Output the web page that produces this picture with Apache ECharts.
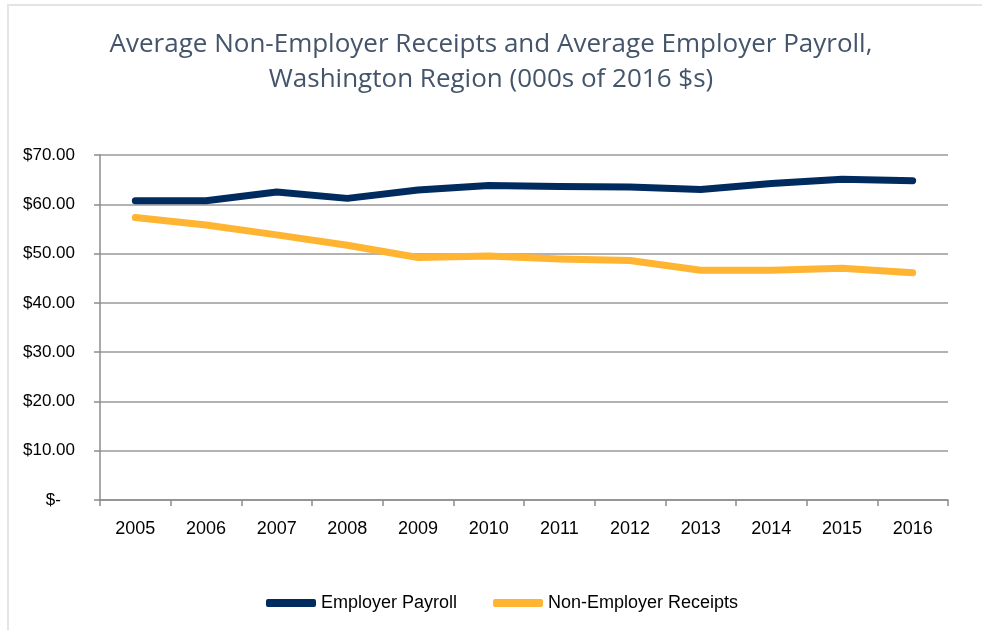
<!DOCTYPE html>
<html>
<head>
<meta charset="utf-8">
<script src="https://cdn.jsdelivr.net/npm/echarts@6/dist/echarts.min.js"></script>
<style>
  html, body { margin: 0; padding: 0; background: #fff; }
  #main { width: 982px; height: 630px; }
</style>
</head>
<body>
<div id="main"></div>
<script>
var years = ['2005', '2006', '2007', '2008', '2009', '2010', '2011', '2012', '2013', '2014', '2015', '2016'];
var employerPayroll = [60.7, 60.7, 62.5, 61.2, 62.9, 63.8, 63.6, 63.5, 63.0, 64.2, 65.1, 64.8];
var nonEmployerReceipts = [57.3, 55.8, 53.8, 51.7, 49.2, 49.5, 48.9, 48.6, 46.6, 46.6, 47.0, 46.1];

var myChart = echarts.init(document.getElementById('main'));

var option = {
  backgroundColor: '#fff',
  animation: false,
  title: {
    text: 'Average Non-Employer Receipts and Average Employer Payroll,\nWashington Region (000s of 2016 $s)',
    left: 'center',
    top: 22,
    textStyle: {
      color: '#44546A',
      fontFamily: 'Open Sans',
      fontWeight: 'normal',
      fontSize: 26,
      lineHeight: 35
    }
  },
  // light frame around the chart (top and left edge)
  graphic: [
    { type: 'rect', shape: { x: 7, y: 4, width: 975, height: 2 }, style: { fill: '#e4e4e4' } },
    { type: 'rect', shape: { x: 7, y: 4, width: 2, height: 626 }, style: { fill: '#e4e4e4' } }
  ],
  legend: {
    bottom: 13,
    left: 261,
    icon: 'roundRect',
    itemWidth: 50,
    itemHeight: 8,
    itemGap: 36,
    textStyle: { color: '#000', fontFamily: 'Liberation Sans', fontSize: 18 },
    data: ['Employer Payroll', 'Non-Employer Receipts']
  },
  grid: { left: 100, right: 34, top: 155, bottom: 130 },
  xAxis: {
    type: 'category',
    data: years,
    boundaryGap: true,
    axisLine: { lineStyle: { color: '#8c8c8c', width: 1.5 } },
    axisTick: { show: true, length: 6, lineStyle: { color: '#8c8c8c', width: 1.5 } },
    axisLabel: { color: '#000', fontFamily: 'Liberation Sans', fontSize: 18, margin: 20 }
  },
  yAxis: {
    type: 'value',
    min: 0,
    max: 70,
    interval: 10,
    axisLine: { show: true, lineStyle: { color: '#8c8c8c', width: 1.5 } },
    axisTick: { show: true, length: 6, lineStyle: { color: '#8c8c8c', width: 1.5 } },
    splitLine: { lineStyle: { color: '#999', width: 1.5 } },
    axisLabel: {
      color: '#000',
      fontFamily: 'Liberation Sans',
      fontSize: 17,
      margin: 25,
      formatter: function (v) {
        return v === 0 ? '$-   ' : '$' + v.toFixed(2);
      }
    }
  },
  series: [
    {
      name: 'Employer Payroll',
      type: 'line',
      data: employerPayroll,
      symbol: 'none',
      color: '#002B5F',
      lineStyle: { width: 7, color: '#002B5F', cap: 'round', join: 'round' }
    },
    {
      name: 'Non-Employer Receipts',
      type: 'line',
      data: nonEmployerReceipts,
      symbol: 'none',
      color: '#FFB531',
      lineStyle: { width: 7, color: '#FFB531', cap: 'round', join: 'round' }
    }
  ]
};

myChart.setOption(option);
</script>
</body>
</html>
